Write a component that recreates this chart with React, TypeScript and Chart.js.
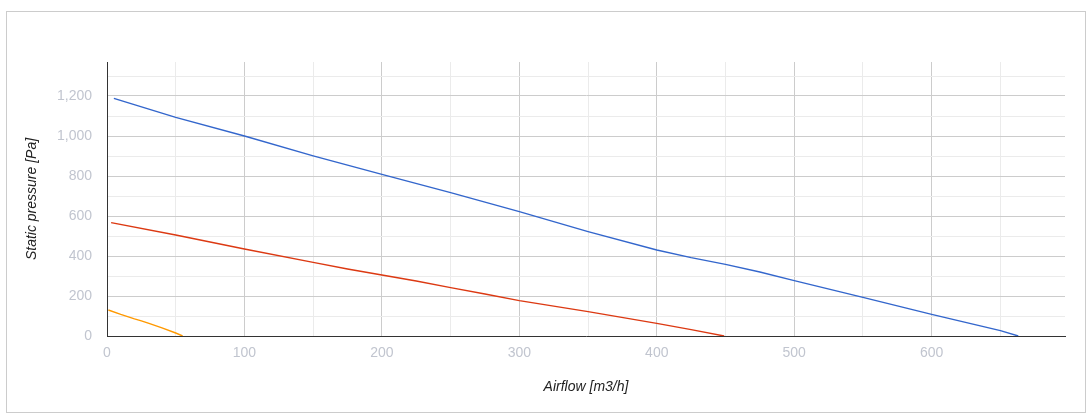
import React, { useEffect, useRef } from "react";
import { Chart, registerables } from "chart.js";

Chart.register(...registerables);

const blueX = [5, 50, 100, 150, 200, 250, 300, 350, 400, 425, 450, 475, 500, 550, 600, 650, 663];
const blueY = [1188, 1093, 1000, 901, 808, 717, 622, 522, 430, 392, 358, 320, 277, 193, 108, 27, 0];

const redX = [3, 50, 100, 150, 175, 200, 225, 250, 275, 300, 350, 400, 425, 449];
const redY = [567, 505, 435, 368, 335, 305, 275, 242, 210, 177, 122, 63, 32, 0];

const orangeX = [1, 10, 20, 25, 30, 40, 50, 55];
const orangeY = [130, 108, 86, 76, 64, 41, 15, 0];

const xTitle = "Airflow [m3/h]";
const yTitle = "Static pressure [Pa]";

const zip = (xs: number[], ys: number[]) => xs.map((x, i) => ({ x, y: ys[i] }));

export default function App() {
  const ref = useRef<HTMLCanvasElement | null>(null);

  useEffect(() => {
    if (!ref.current) return;
    const font = "'Liberation Sans', Arial, sans-serif";
    const tickColor = "#c1c5cf";
    const chart = new Chart(ref.current, {
      type: "line",
      data: {
        datasets: [
          { data: zip(blueX, blueY), borderColor: "#3366cc", borderWidth: 1.4, pointRadius: 0, tension: 0 },
          { data: zip(redX, redY), borderColor: "#dc3912", borderWidth: 1.4, pointRadius: 0, tension: 0 },
          { data: zip(orangeX, orangeY), borderColor: "#ff9900", borderWidth: 1.4, pointRadius: 0, tension: 0 },
        ],
      },
      options: {
        animation: false,
        responsive: false,
        layout: { padding: { top: 62, right: 27, left: 0, bottom: 0 } },
        plugins: { legend: { display: false }, tooltip: { enabled: false } },
        scales: {
          x: {
            type: "linear",
            min: 0,
            max: 697,
            afterFit: (s: any) => {
              s.height = 80;
            },
            grid: {
              drawTicks: false,
              color: (c: any) => (c.tick && c.tick.value % 100 === 0 ? "#cccccc" : "#ebebeb"),
            },
            border: { color: "#333333", width: 1 },
            ticks: {
              stepSize: 50,
              includeBounds: false,
              autoSkip: false,
              maxRotation: 0,
              padding: 9,
              color: tickColor,
              font: { family: font, size: 14 },
              callback: (v: any) => (Number(v) % 100 === 0 ? String(v) : ""),
            },
            title: {
              display: true,
              text: xTitle,
              color: "#222222",
              font: { family: font, size: 14, style: "italic" },
              padding: { top: 0, bottom: 20 },
            },
          },
          y: {
            type: "linear",
            min: 0,
            max: 1370,
            afterFit: (s: any) => {
              s.width = 107;
            },
            grid: {
              drawTicks: false,
              color: (c: any) => (c.tick && c.tick.value % 200 === 0 ? "#cccccc" : "#ebebeb"),
            },
            border: { color: "#333333", width: 1 },
            ticks: {
              stepSize: 100,
              includeBounds: false,
              autoSkip: false,
              padding: 15,
              color: tickColor,
              font: { family: font, size: 14 },
              callback: (v: any) => (Number(v) % 200 === 0 ? Number(v).toLocaleString("en-US") : ""),
            },
            title: {
              display: true,
              text: yTitle,
              color: "#222222",
              font: { family: font, size: 14, style: "italic" },
              padding: { top: 24, bottom: 0 },
            },
          },
        },
      },
    });
    return () => chart.destroy();
  }, []);

  return (
    <div style={{ position: "fixed", left: 0, top: 0, width: 1092, height: 416, background: "#ffffff" }}>
      <div
        style={{
          position: "absolute",
          left: 6,
          top: 11,
          width: 1080,
          height: 402,
          border: "1px solid #cccccc",
          boxSizing: "border-box",
        }}
      />
      <canvas ref={ref} width={1092} height={416} style={{ position: "absolute", left: 0, top: 0 }} />
    </div>
  );
}
